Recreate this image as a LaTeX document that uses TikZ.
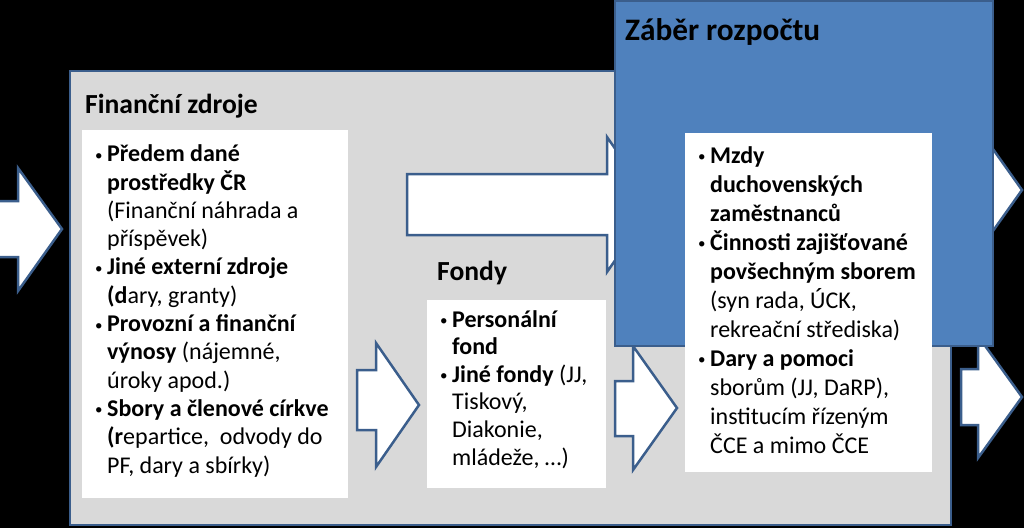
\documentclass[tikz,border=0pt]{standalone}
\usepackage{fontspec}
\usepackage{graphicx}
\setmainfont{Carlito}
\definecolor{graybg}{HTML}{D9D9D9}
\definecolor{bluebg}{HTML}{4F81BD}
\definecolor{edge}{HTML}{3B5E8C}
\newcommand\bul{\leavevmode\llap{\raisebox{1.5pt}{\fontsize{15}{15}\selectfont\textbullet}\hspace{4.5pt}}}
\newcommand\bodytext[2]{\parbox[t]{300pt}{\fontsize{24}{#1}\selectfont\raggedright #2}}
\begin{document}
\begin{tikzpicture}[x=1pt,y=-1pt,
  panel/.style={draw=edge,line width=2.5pt},
  whitebox/.style={fill=white},
  bigarrow/.style={fill=white,draw=edge,line width=2.5pt,line join=miter},
  title/.style={anchor=base west,inner sep=0pt,font=\fontsize{27.6}{30}\selectfont\bfseries},
  body/.style={anchor=base west,inner sep=0pt}]
\fill[black] (0,0) rectangle (1024,528);
\useasboundingbox (0,0) rectangle (1024,528);
% gray panel
\draw[panel,fill=graybg] (70,71) rectangle (951,525);
\fill[whitebox] (82,130) rectangle (348,498);
\fill[whitebox] (427,300) rectangle (606,488);
% arrows
\draw[bigarrow] (-5,201) -- (18,201) -- (18,168) -- (62,229) -- (18,291) -- (18,257) -- (-5,257) -- cycle;
\draw[bigarrow] (407,174) -- (607,174) -- (607,137) -- (654,204.5) -- (607,272) -- (607,235) -- (407,235) -- cycle;
\draw[bigarrow] (357,370) -- (376,370) -- (376,343) -- (419,405) -- (376,467) -- (376,430) -- (357,430) -- cycle;
\draw[bigarrow] (615,381) -- (633,381) -- (633,346) -- (677,408) -- (633,470) -- (633,436) -- (615,436) -- cycle;
\draw[bigarrow] (961,162) -- (978,162) -- (978,128) -- (1022,190) -- (978,252) -- (978,218) -- (961,218) -- cycle;
\draw[bigarrow] (961,369) -- (978,369) -- (978,336) -- (1022,397) -- (978,458) -- (978,425) -- (961,425) -- cycle;
% blue panel
\draw[panel,fill=bluebg] (615,1) rectangle (993,346);
\fill[whitebox] (685,133) rectangle (932,472);
% titles
\node[title] (t1) at (85,113) {Finanční zdroje};
\node[title] (t2) at (437,280) {Fondy};
\node[title,font=\fontsize{31.3}{34}\selectfont\bfseries] (t3) at (625,40) {Záběr rozpočtu};
% texts
\node[body] (b1) at (107,161.7) {\bodytext{28.3pt}{%
\bul\textbf{Předem dané}\\
\textbf{prostředky ČR}\\
(Finanční náhrada a\\
příspěvek)\\
\bul\textbf{Jiné externí zdroje}\\
\textbf{(d}ary, granty)\\
\bul\textbf{Provozní a finanční}\\
\textbf{výnosy} (nájemné,\\
úroky apod.)\\
\bul\textbf{Sbory a členové církve}\\
\textbf{(r}epartice,\ \ odvody do\\
PF, dary a sbírky)}};
\node[body] (b2) at (452,327) {\bodytext{27.6pt}{%
\bul\textbf{Personální}\\
\textbf{fond}\\
\bul\textbf{Jiné fondy} (JJ,\\
Tiskový,\\
Diakonie,\\
mládeže, …)}};
\node[body] (b3) at (710,163) {\bodytext{29pt}{%
\bul\textbf{Mzdy}\\
\textbf{duchovenských}\\
\textbf{zaměstnanců}\\
\bul\textbf{Činnosti zajišťované}\\
\textbf{povšechným sborem}\\
(syn rada, ÚCK,\\
rekreační střediska)\\
\bul\textbf{Dary a pomoci}\\
sborům (JJ, DaRP),\\
institucím řízeným\\
ČCE a mimo ČCE}};
\end{tikzpicture}
\end{document}
